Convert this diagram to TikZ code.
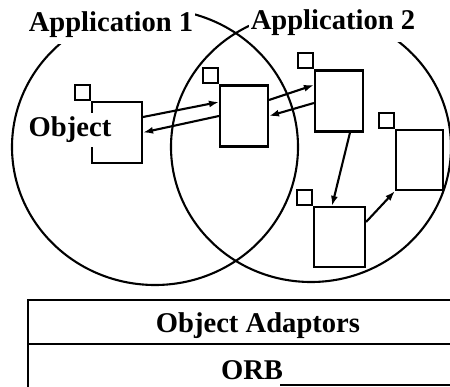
\documentclass[tikz,border=0pt]{standalone}
\usepackage{fontspec}
\setmainfont{Liberation Serif}
\usetikzlibrary{arrows.meta,calc}
\begin{document}
\begin{tikzpicture}[x=1pt,y=-1pt,
  ring/.style={line width=2.1pt},
  mainbox/.style={draw,line width=2.1pt,inner sep=0pt,minimum width=48pt,minimum height=61pt},
  tinybox/.style={draw,line width=2.1pt,inner sep=0pt,minimum size=15pt,anchor=south east},
  lbl/.style={font=\fontsize{28.6}{32}\selectfont\bfseries,inner xsep=1.5pt,inner ysep=1.5pt},
  conn/.style={line width=2.1pt,-{Latex[length=10pt,width=7pt]}},
  rule/.style={line width=2pt}
]
\useasboundingbox (0,0) rectangle (450,387);
\clip (0,0) rectangle (450,387);
% application circles
\draw[ring] (155,147) ellipse [x radius=143pt, y radius=138pt];
\draw[ring] (311,147) ellipse [x radius=140pt, y radius=135pt];
% objects
\node[mainbox,minimum width=50pt] (b1) at (117,132.5) {};
\node[tinybox] (s1) at (b1.north west) {};
\node[mainbox] (b2) at (244,116) {};
\node[tinybox] (s2) at (b2.north west) {};
\node[mainbox] (b3) at (339,101) {};
\node[tinybox] (s3) at (b3.north west) {};
\node[mainbox,minimum width=47pt,minimum height=60pt] (b4) at (419.5,160) {};
\node[tinybox] (s4) at (b4.north west) {};
\node[mainbox,minimum width=51pt,minimum height=60pt] (b5) at (339.5,237) {};
\node[tinybox] (s5) at (b5.north west) {};
% connectors
\draw[conn] ($(b1.east)+(0,-15.5)$) -- ($(b2.west)+(0,-14)$);
\draw[conn] (b2.west) -- (b1.east);
\draw[conn] ($(b2.east)+(0,-16)$) -- ($(b3.west)+(0,-16)$);
\draw[conn] ($(b3.west)+(0,2)$) -- (b2.east);
\draw[conn] ($(b3.south)+(11,0)$) -- ($(b5.north)+(-7.5,0)$);
\draw[conn] ($(b5.east)+(0,-15)$) -- (b4.south west);
% labels
\node[lbl,fill=white,anchor=base,text height=20pt,inner ysep=6pt] (app1) at (111,32) {Application 1};
\node[lbl,fill=white,anchor=base,text height=20pt,inner ysep=6pt] (app2) at (333,30) {Application 2};
\node[lbl,fill=white,anchor=base,inner ysep=4pt] (objl) at (70,137) {Object};
% layers
\draw[rule] (28,387) -- (28,300) -- (450,300);
\draw[rule] (28,344) -- (450,344);
\draw[rule] (280,385.5) -- (450,385.5);
\node[lbl,anchor=base] (oa) at (258,333) {Object Adaptors};
\node[lbl,anchor=base] (orb) at (252,380) {ORB};
\end{tikzpicture}
\end{document}
